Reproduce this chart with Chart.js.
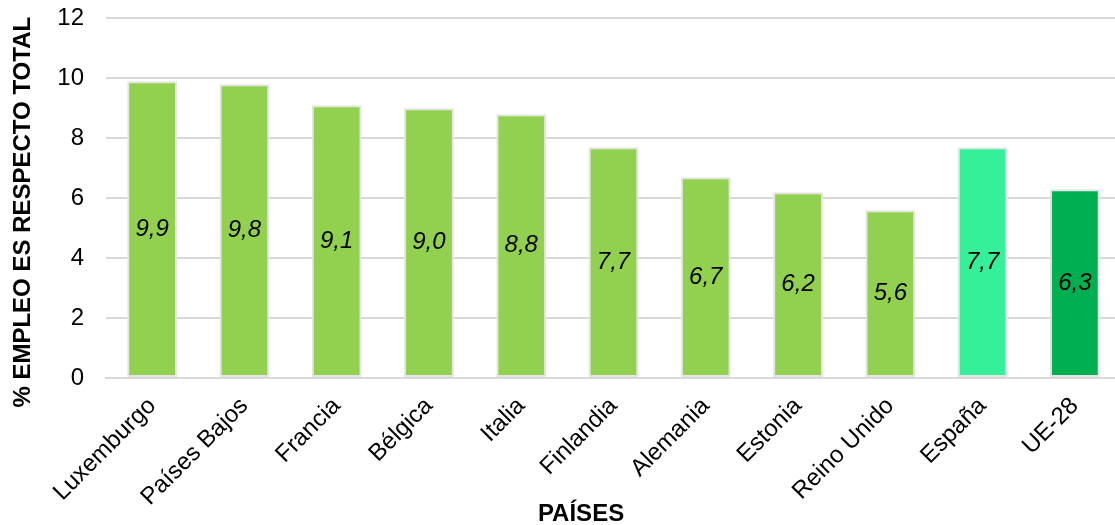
<!DOCTYPE html>
<html lang="es">
<head>
  <meta charset="UTF-8" />
  <title>Empleo por países</title>
  <script src="https://cdn.jsdelivr.net/npm/chart.js"></script>
  <style>
    html, body { margin: 0; padding: 0; background: #fff; overflow: hidden; }
    #contenedor { width: 1125px; height: 543px; margin-top: -18px; }
  </style>
</head>
<body>
  <div id="contenedor"><canvas id="grafico"></canvas></div>

  <script>
  // Datos
  const paises = ['Luxemburgo', 'Países Bajos', 'Francia', 'Bélgica', 'Italia', 'Finlandia',
                  'Alemania', 'Estonia', 'Reino Unido', 'España', 'UE-28'];
  const empleo = [9.9, 9.8, 9.1, 9.0, 8.8, 7.7, 6.7, 6.2, 5.6, 7.7, 6.3];
  const coloresBarras = ['#92D050', '#92D050', '#92D050', '#92D050', '#92D050', '#92D050',
                         '#92D050', '#92D050', '#92D050', '#36EF99', '#00B050'];
  const ticksY = [0, 2, 4, 6, 8, 10, 12];

  const fuente = "'Liberation Sans', Arial, sans-serif";

  // etiquetas dentro de las barras (centro, cursiva, con coma decimal)
  const etiquetasBarras = {
    id: 'etiquetasBarras',
    afterDatasetsDraw(chart) {
      const ctx = chart.ctx;
      const meta = chart.getDatasetMeta(0);
      ctx.save();
      ctx.font = 'italic 24px ' + fuente;
      ctx.fillStyle = '#000';
      ctx.textAlign = 'center';
      ctx.textBaseline = 'middle';
      meta.data.forEach((bar, i) => {
        const y = (bar.y + bar.base) / 2;
        ctx.fillText(empleo[i].toFixed(1).replace('.', ','), bar.x, y);
      });
      ctx.restore();
    }
  };

  // títulos de los ejes
  const titulosEjes = {
    id: 'titulosEjes',
    afterDraw(chart) {
      const ctx = chart.ctx;
      const area = chart.chartArea;
      ctx.save();
      ctx.font = 'bold 24px ' + fuente;
      ctx.fillStyle = '#000';
      ctx.textAlign = 'center';
      ctx.textBaseline = 'middle';
      ctx.fillText('PAÍSES', area.left + (area.right - area.left) * 0.468, chart.height - 11);
      ctx.translate(23, (area.top + area.bottom) / 2 + 14);
      ctx.rotate(-Math.PI / 2);
      ctx.fillText('% EMPLEO ES RESPECTO TOTAL', 0, 0);
      ctx.restore();
    }
  };

  new Chart(document.getElementById('grafico'), {
    type: 'bar',
    data: {
      labels: paises,
      datasets: [{
        data: empleo,
        backgroundColor: coloresBarras,
        borderColor: '#e4e4e4',
        borderWidth: 2,
        borderSkipped: false,
        barPercentage: 0.54,
        categoryPercentage: 1
      }]
    },
    options: {
      responsive: true,
      maintainAspectRatio: false,
      animation: false,
      layout: { padding: { left: 0, right: 4, top: 0, bottom: 0 } },
      plugins: {
        legend: { display: false },
        tooltip: { enabled: false }
      },
      scales: {
        x: {
          grid: { display: false },
          border: { color: '#d9d9d9', width: 2 },
          ticks: {
            color: '#000',
            font: { family: fuente, size: 24 },
            maxRotation: 45,
            minRotation: 45,
            padding: 6
          },
          afterFit(scale) { scale.height = 147; }
        },
        y: {
          min: 0,
          max: 12,
          afterBuildTicks(scale) { scale.ticks = ticksY.map(v => ({ value: v })); },
          grid: { color: '#d9d9d9', lineWidth: 2, drawTicks: false },
          border: { display: false },
          ticks: {
            color: '#000',
            font: { family: fuente, size: 24 },
            padding: 22
          },
          afterFit(scale) { scale.width = 106; }
        }
      }
    },
    plugins: [etiquetasBarras, titulosEjes]
  });
  </script>
</body>
</html>
